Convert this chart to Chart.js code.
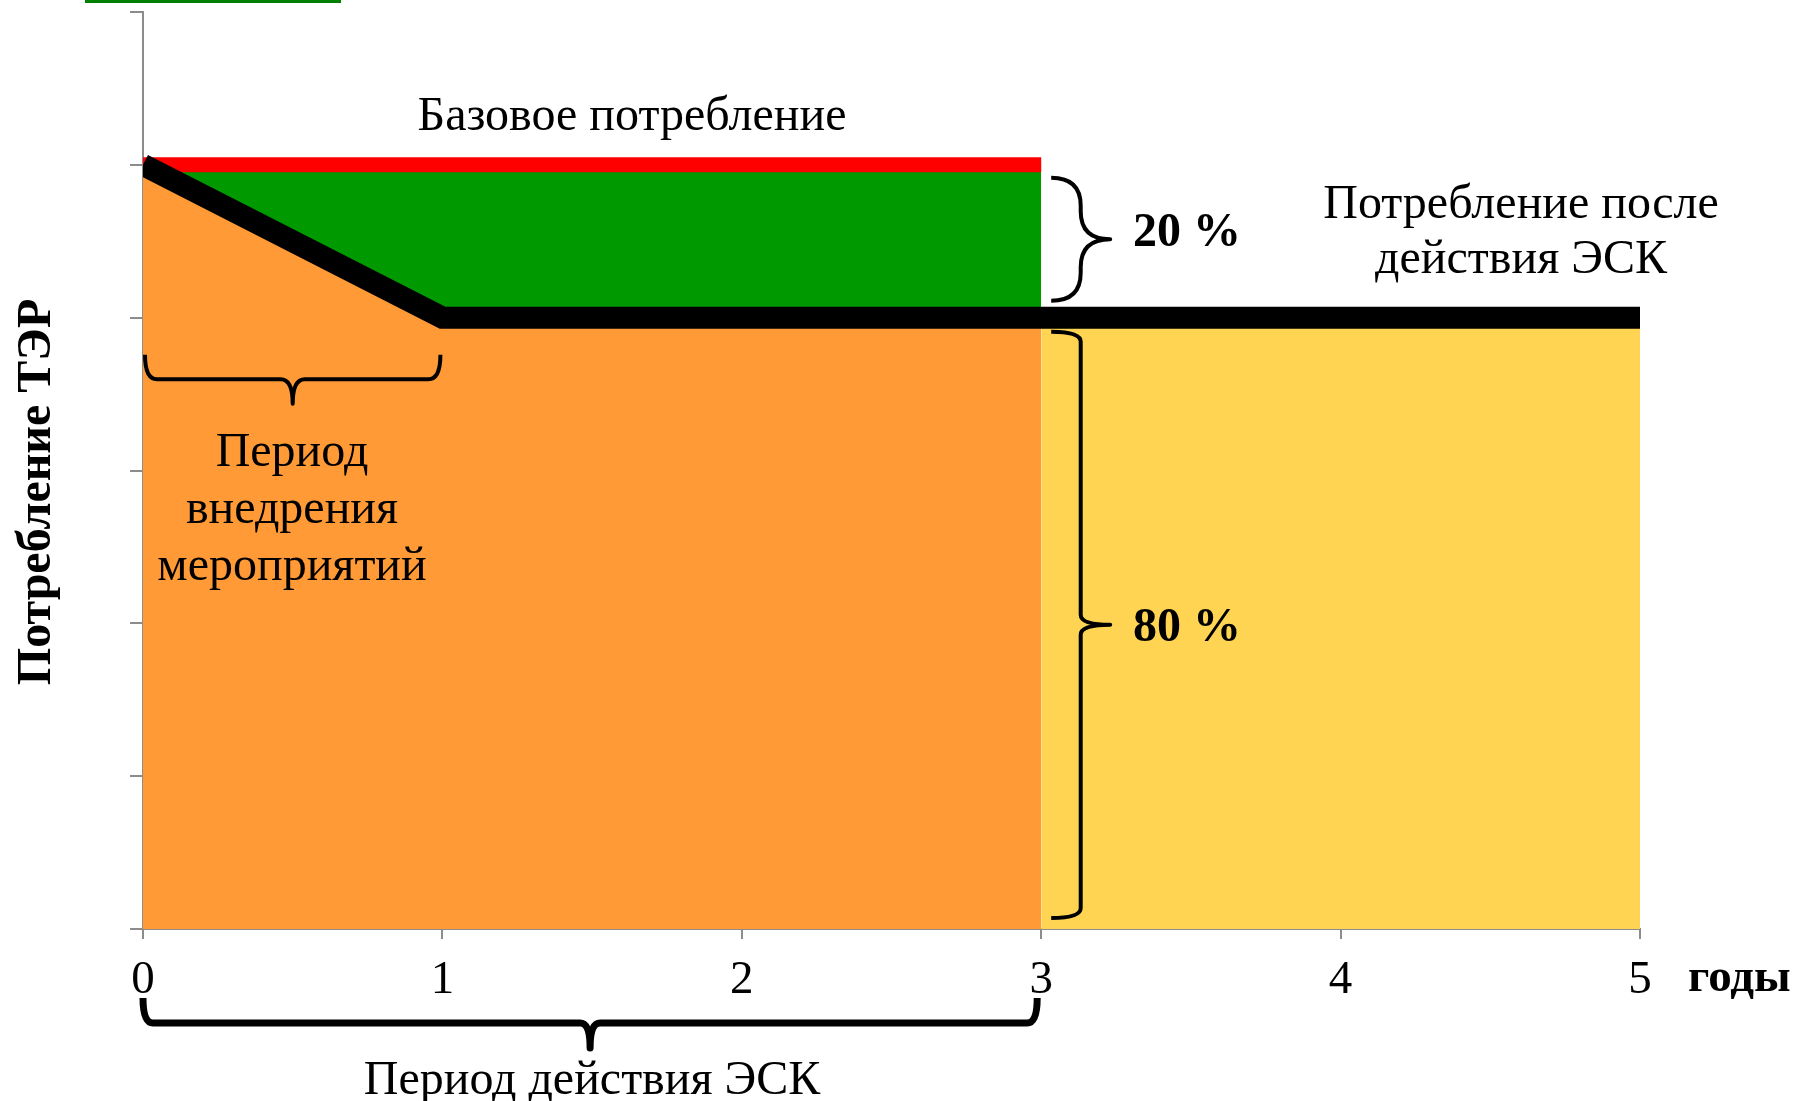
<!DOCTYPE html>
<html>
<head>
<meta charset="utf-8">
<script src="https://cdn.jsdelivr.net/npm/chart.js@4.4.1/dist/chart.umd.min.js"></script>
<style>
  html, body { margin: 0; padding: 0; background: #fff; }
</style>
</head>
<body>
<canvas id="myChart" width="1795" height="1101"></canvas>
<script>
// данные графика
const years = [0, 1, 2, 3, 4, 5];          // ось X, годы
const yTicks = [0, 1, 2, 3, 4, 5, 6];      // деления оси Y (без подписей)
const baseX = [0, 3];    const baseY = [5, 5];       // базовое потребление
const escX = [0, 1, 3];  const escY = [5, 4, 4];     // потребление в период действия ЭСК
const afterX = [3, 5];   const afterY = [4, 4];      // потребление после действия ЭСК
const lineX = [0, 1, 5]; const lineY = [5, 4, 4];    // линия потребления после мероприятий

const pts = (xs, ys) => xs.map((x, i) => ({ x: x, y: ys[i] }));
const SERIF = '"Liberation Serif", "Times New Roman", serif';
const AXIS = '#8c8c8c';

// фигурная скобка от точки A до B, острие в сторону нормали
function brace(ctx, ax, ay, bx, by, depth, r, w) {
  const len = Math.hypot(bx - ax, by - ay);
  const ux = (bx - ax) / len, uy = (by - ay) / len;
  const nx = -uy, ny = ux;
  const h = depth / 2;
  const mx = (ax + bx) / 2, my = (ay + by) / 2;
  const P = (x, y, a, b) => [x + ux * a + nx * b, y + uy * a + ny * b];
  ctx.save();
  ctx.strokeStyle = '#000';
  ctx.lineWidth = w;
  ctx.lineJoin = 'round';
  ctx.lineCap = 'butt';
  ctx.beginPath();
  ctx.moveTo(ax, ay);
  let c = P(ax, ay, 0, h), e = P(ax, ay, r, h);
  ctx.quadraticCurveTo(c[0], c[1], e[0], e[1]);
  e = P(mx, my, -r, h); ctx.lineTo(e[0], e[1]);
  c = P(mx, my, 0, h); e = P(mx, my, 0, depth);
  ctx.quadraticCurveTo(c[0], c[1], e[0], e[1]);
  e = P(mx, my, r, h);
  ctx.quadraticCurveTo(c[0], c[1], e[0], e[1]);
  e = P(bx, by, -r, h); ctx.lineTo(e[0], e[1]);
  c = P(bx, by, 0, h);
  ctx.quadraticCurveTo(c[0], c[1], bx, by);
  ctx.stroke();
  ctx.restore();
}

function text(ctx, s, x, y, size, bold, align) {
  ctx.font = (bold ? 'bold ' : '') + size + 'px ' + SERIF;
  ctx.fillStyle = '#000';
  ctx.textAlign = align || 'center';
  ctx.textBaseline = 'alphabetic';
  ctx.fillText(s, x, y);
}

const notes = {
  id: 'notes',
  afterDatasetsDraw(chart) {
    const ctx = chart.ctx;
    const X = chart.scales.x, Y = chart.scales.y;
    const px = v => X.getPixelForValue(v), py = v => Y.getPixelForValue(v);

    // скобки
    brace(ctx, px(0) + 2, py(4) + 37, px(1) - 2, py(4) + 37, 49, 12, 4);
    brace(ctx, px(0), py(0) + 69, px(3) - 4, py(0) + 69, 50, 10, 7);
    brace(ctx, px(3) + 10, py(4) - 17, px(3) + 10, py(5) + 13, 59, 28, 4);
    brace(ctx, px(3) + 10, py(0) - 11, px(3) + 10, py(4) + 14, 59, 10, 4);

    // подписи
    text(ctx, 'Базовое потребление', 632, 130, 48);
    text(ctx, 'Потребление после', 1521, 218, 48);
    text(ctx, 'действия ЭСК', 1521, 273, 48);
    text(ctx, 'Период', 292, 466, 48);
    text(ctx, 'внедрения', 292, 523, 48);
    text(ctx, 'мероприятий', 292, 580, 48);
    text(ctx, 'Период действия ЭСК', 592, 1094, 48);
    text(ctx, '20 %', 1133, 246, 48, true, 'left');
    text(ctx, '80 %', 1133, 641, 48, true, 'left');
    text(ctx, 'годы', 1688, 991, 47, true, 'left');

    ctx.save();
    ctx.translate(50, 492);
    ctx.rotate(-Math.PI / 2);
    text(ctx, 'Потребление ТЭР', 0, 0, 48, true);
    ctx.restore();

    // обрезанный заголовок сверху
    ctx.fillStyle = '#008000';
    ctx.fillRect(85, 0, 256, 3);
  }
};

new Chart(document.getElementById('myChart'), {
  type: 'line',
  data: {
    datasets: [
      { // после ЭСК
        data: pts(afterX, afterY), backgroundColor: '#FFD452', borderWidth: 0,
        fill: 'origin', pointRadius: 0, order: 5
      },
      { // период действия ЭСК
        data: pts(escX, escY), backgroundColor: '#FF9A36', borderWidth: 0,
        fill: 'origin', pointRadius: 0, order: 4
      },
      { // экономия
        data: pts(baseX, baseY), backgroundColor: '#009900', borderWidth: 0,
        fill: 1, pointRadius: 0, order: 3
      },
      { // базовое потребление
        data: pts(baseX, baseY), borderColor: '#FF0000', borderWidth: 15,
        borderCapStyle: 'butt', fill: false, pointRadius: 0, order: 2
      },
      { // потребление после мероприятий
        data: pts(lineX, lineY), borderColor: '#000000', borderWidth: 22,
        borderCapStyle: 'butt', borderJoinStyle: 'miter', fill: false, pointRadius: 0, order: 1
      }
    ]
  },
  options: {
    responsive: false,
    animation: false,
    devicePixelRatio: 1,
    layout: { padding: { top: 12, right: 155, left: 0, bottom: 0 } },
    plugins: { legend: { display: false }, tooltip: { enabled: false } },
    elements: { line: { tension: 0 } },
    scales: {
      x: {
        type: 'linear', min: 0, max: 5,
        afterBuildTicks: s => { s.ticks = years.map(v => ({ value: v })); },
        ticks: { font: { family: SERIF, size: 47 }, color: '#000', padding: 13, maxRotation: 0 },
        grid: { drawOnChartArea: false, tickLength: 10, color: AXIS, lineWidth: 2 },
        border: { color: AXIS, width: 2 },
        afterFit: s => { s.height = 172; }
      },
      y: {
        min: 0, max: 6,
        afterBuildTicks: s => { s.ticks = yTicks.map(v => ({ value: v })); },
        ticks: { display: false },
        grid: { drawOnChartArea: false, tickLength: 13, color: AXIS, lineWidth: 2 },
        border: { color: AXIS, width: 2 },
        afterFit: s => { s.width = 143; }
      }
    }
  },
  plugins: [notes]
});
</script>
</body>
</html>
